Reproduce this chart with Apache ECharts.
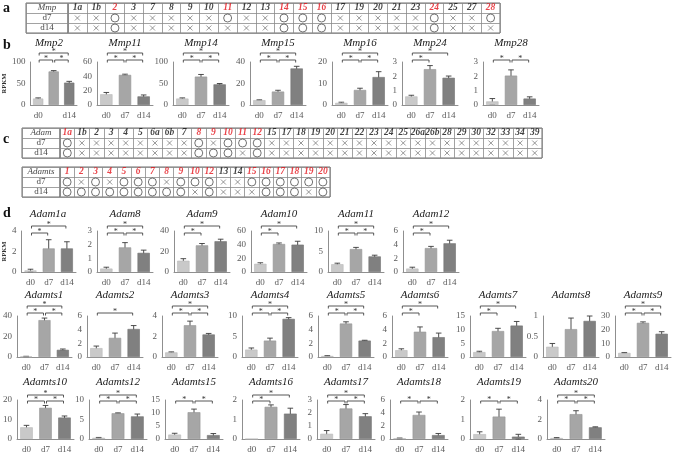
<!DOCTYPE html>
<html><head><meta charset="utf-8">
<script src="https://cdn.jsdelivr.net/npm/echarts@6/dist/echarts.min.js"></script>
<style>html,body{margin:0;padding:0;background:#fff}#c{width:677px;height:454px}</style>
</head><body><div id="c"></div>
<script>
// ---------- DATA ----------
const times = ['d0', 'd7', 'd14'];

// table a (Mmp)
const mmpGenes = ['1a','1b','2','3','7','8','9','10','11','12','13','14','15','16','17','19','20','21','23','24','25','27','28'];
const mmpD7  = ['x','x','o','x','x','x','x','x','o','x','x','o','o','o','x','x','x','x','x','o','x','x','o'];
const mmpD14 = ['x','x','o','x','x','x','x','x','x','x','x','o','o','o','x','x','x','x','x','o','x','x','x'];
const mmpRed = ['2','11','14','15','16','24','28'];

// table c (Adam)
const adamGenes = ['1a','1b','2','3','4','5','6a','6b','7','8','9','10','11','12','15','17','18','19','20','21','22','23','24','25','26a','26b','28','29','30','32','33','34','39'];
const adamD7  = ['o','x','x','x','x','x','x','x','x','o','x','o','o','o','x','x','x','x','x','x','x','x','x','x','x','x','x','x','x','x','x','x','x'];
const adamD14 = ['o','x','x','x','x','x','x','x','x','o','o','o','x','o','x','x','x','x','x','x','x','x','x','x','x','x','x','x','x','x','x','x','x'];
const adamRed = ['1a','8','9','10','11','12'];

// table c (Adamts)
const adamtsGenes = ['1','2','3','4','5','6','7','8','9','10','12','13','14','15','16','17','18','19','20'];
const adamtsD7  = ['o','x','o','x','o','o','o','x','o','o','o','x','x','o','o','o','o','o','o'];
const adamtsD14 = ['o','o','o','o','o','o','o','o','o','x','o','x','x','x','o','o','o','x','o'];
const adamtsRed = ['1','2','3','4','5','6','7','8','9','10','12','15','16','17','18','19','20'];

// panel b
const bNames = ['Mmp2','Mmp11','Mmp14','Mmp15','Mmp16','Mmp24','Mmp28'];
const bD0  = [15, 15, 15, 4.5, 1, 0.6, 0.25];
const bD7  = [78, 42, 66, 12.5, 7, 2.5, 2.05];
const bD14 = [52, 12, 48, 34, 13, 1.9, 0.45];
const bE0  = [1.5, 2.5, 1.5, 0.3, 0.3, 0.08, 0.2];
const bE7  = [2, 1, 5, 1.2, 0.8, 0.25, 0.4];
const bE14 = [3, 2, 2, 2, 2.5, 0.12, 0.12];
const bMax = [100, 60, 100, 40, 20, 3, 3];
const bStep = [50, 20, 50, 20, 10, 1, 1];
const bSig = ['01,12,02','01,12,02','01,12,02','01,12,02','01,12,02','01,02','01,12'];

// panel d, row 1
const d1Names = ['Adam1a','Adam8','Adam9','Adam10','Adam11','Adam12'];
const d1D0  = [0.15, 0.25, 11, 12, 1.9, 0.5];
const d1D7  = [2.3, 1.8, 26, 41, 5.6, 3.5];
const d1D14 = [2.3, 1.4, 30, 40, 3.8, 4.2];
const d1E0  = [0.12, 0.1, 2, 1.5, 0.25, 0.2];
const d1E7  = [0.85, 0.35, 1.8, 1.5, 0.4, 0.25];
const d1E14 = [0.65, 0.2, 2, 5, 0.3, 0.45];
const d1Max = [4, 3, 40, 60, 10, 6];
const d1Step = [2, 1, 20, 20, 5, 2];
const d1Sig = ['01,02','01,12,02','01,02','01,02','01,12,02','01,02'];

// panel d, row 2
const d2Names = ['Adamts1','Adamts2','Adamts3','Adamts4','Adamts5','Adamts6','Adamts7','Adamts8','Adamts9'];
const d2D0  = [0.5, 1.3, 0.45, 1.8, 0.15, 1, 1.8, 0.25, 3];
const d2D7  = [36, 2.8, 3.1, 4, 4.9, 3.7, 9.5, 0.68, 25];
const d2D14 = [7, 4.1, 2.2, 9.3, 2.4, 2.9, 11.5, 0.88, 17];
const d2E0  = [0.2, 0.3, 0.05, 0.4, 0.05, 0.2, 0.3, 0.08, 0.3];
const d2E7  = [2, 0.7, 0.4, 0.6, 0.25, 0.7, 1, 0.27, 0.7];
const d2E14 = [0.8, 0.5, 0.1, 0.3, 0.05, 0.6, 1.5, 0.12, 1.5];
const d2Max = [40, 6, 4, 10, 6, 6, 15, 1, 30];
const d2Step = [20, 2, 2, 5, 2, 2, 5, 0.5, 10];
const d2Sig = ['01,12,02','02','01,12,02','01,12,02','01,12,02','01,02','01,02','','01,12,02'];

// panel d, row 3
const d3Names = ['Adamts10','Adamts12','Adamts15','Adamts16','Adamts17','Adamts18','Adamts19','Adamts20'];
const d3D0  = [6, 0.3, 1.7, 0, 0.4, 0.1, 0.25, 0.1];
const d3D7  = [16, 6.6, 10.3, 1.65, 2.35, 3.7, 1.15, 2.55];
const d3D14 = [11, 5.8, 1.5, 1.3, 1.75, 0.6, 0.12, 1.2];
const d3E0  = [1, 0.1, 0.5, 0, 0.25, 0.05, 0.12, 0.05];
const d3E7  = [1.2, 0.1, 1.2, 0.1, 0.3, 0.45, 0.38, 0.35];
const d3E14 = [0.8, 0.6, 0.6, 0.28, 0.2, 0.25, 0.12, 0.05];
const d3Max = [20, 10, 15, 2, 3, 6, 2, 4];
const d3Step = [10, 5, 5, 1, 1, 2, 1, 2];
const d3Sig = ['01,12,02','01,12,02','01,12','01,02','01,12,02','01,12','01,12','01,12,02'];

// ---------- LAYOUT / STYLE ----------
const FONT = 'Liberation Serif';
const BAR_COLORS = ['#c9c9c9', '#a6a6a6', '#808080'];
const BAR_BORDERS = ['#b8b8b8', '#969696', '#727272'];
const AXIS_COLOR = '#8f8f8f';
const LABEL_COLOR = '#595959';

const rowLayouts = {
  b:  {top: 62,  height: 43, width: 56, titleY: 43,  lower: -2, upper: -9, rpkm: true,
       lefts: [21, 97, 173, 250, 332, 402, 483]},
  d1: {top: 231, height: 41, width: 56, titleY: 214, lower: 2, upper: -5, rpkm: true,
       lefts: [20, 97, 174, 251, 328, 403]},
  d2: {top: 316, height: 41, width: 56, titleY: 295, lower: -3, upper: -10, rpkm: false,
       lefts: [16, 87, 162, 242, 318, 392, 470, 543, 615]},
  d3: {top: 400, height: 40, width: 58, titleY: 382, lower: 1, upper: -5, rpkm: false,
       lefts: [16, 89, 165, 242, 317, 390, 470, 547]}
};
const tableLayouts = {
  a:      {x0: 26, x1: 68, x2: 500, top: 3,   rowH: 10},
  adam:   {x0: 22, x1: 60, x2: 542, top: 128, rowH: 10},
  adamts: {x0: 22, x1: 60, x2: 330, top: 167, rowH: 10}
};

const grids = [], xAxes = [], yAxes = [], series = [], graphics = [];

function errRender(params, api) {
  const i = api.value(0), v = api.value(1), e = api.value(2);
  if (!e) return null;
  const p1 = api.coord([i, v + e]), p2 = api.coord([i, v - e]);
  const hw = 2.8;
  const st = {stroke: '#3a3a3a', lineWidth: 0.9};
  return {type: 'group', children: [
    {type: 'line', shape: {x1: p1[0], y1: p1[1], x2: p2[0], y2: p2[1]}, style: st},
    {type: 'line', shape: {x1: p1[0] - hw, y1: p1[1], x2: p1[0] + hw, y2: p1[1]}, style: st},
    {type: 'line', shape: {x1: p2[0] - hw, y1: p2[1], x2: p2[0] + hw, y2: p2[1]}, style: st}
  ]};
}

function makeBracketRender(max, lay) {
  return function (params, api) {
    const a = api.value(0), b = api.value(1), lvl = api.value(2);
    const pa = api.coord([a, max]), pb = api.coord([b, max]);
    const y = pa[1] + (lvl ? lay.upper : lay.lower);
    const xa = pa[0] + 1, xb = pb[0] - 1;
    return {type: 'group', children: [
      {type: 'polyline', shape: {points: [[xa, y + 2.5], [xa, y], [xb, y], [xb, y + 2.5]]},
       style: {stroke: '#444', lineWidth: 0.9, fill: null}},
      {type: 'text', style: {text: '*', x: (xa + xb) / 2, y: y + 3, align: 'center', verticalAlign: 'bottom',
       font: '8px ' + FONT, fill: '#333'}}
    ]};
  };
}

function addBarPanel(name, vals, errs, max, step, sig, lay, idx, rpkm) {
  const gi = grids.length;
  const left = lay.lefts[idx];
  grids.push({left: left, top: lay.top, width: lay.width, height: lay.height});
  xAxes.push({type: 'category', gridIndex: gi, data: times,
    axisLine: {lineStyle: {color: AXIS_COLOR, width: 1}}, axisTick: {show: false},
    axisLabel: {fontFamily: FONT, fontSize: 9, color: LABEL_COLOR, margin: 6}});
  yAxes.push({type: 'value', gridIndex: gi, min: 0, max: max, interval: step,
    axisLine: {show: true, lineStyle: {color: AXIS_COLOR, width: 1}}, axisTick: {show: false},
    splitLine: {show: false},
    axisLabel: {fontFamily: FONT, fontSize: 9, color: LABEL_COLOR, margin: 5},
    name: rpkm ? 'RPKM' : '', nameLocation: 'middle', nameGap: 12, nameRotate: 90,
    nameTextStyle: {fontFamily: FONT, fontSize: 6.5, fontWeight: 'bold', color: '#333'}});
  series.push({type: 'bar', xAxisIndex: gi, yAxisIndex: gi, barWidth: '66%', silent: true,
    data: vals.map((v, i) => ({value: v, itemStyle: {color: BAR_COLORS[i], borderColor: BAR_BORDERS[i], borderWidth: 0.6}}))});
  series.push({type: 'custom', xAxisIndex: gi, yAxisIndex: gi, silent: true, renderItem: errRender,
    data: vals.map((v, i) => [i, v, errs[i]])});
  const pairs = sig ? sig.split(',') : [];
  const hasAdj = pairs.some(p => p === '01' || p === '12');
  const bdata = pairs.map(p => {
    const a = +p[0], b = +p[1];
    const lvl = (b - a === 2 && hasAdj) ? 1 : 0;
    return [a, b, lvl];
  });
  if (bdata.length) {
    series.push({type: 'custom', xAxisIndex: gi, yAxisIndex: gi, silent: true,
      renderItem: makeBracketRender(max, lay), data: bdata});
  }
  graphics.push({type: 'text', x: left + lay.width / 2, y: lay.titleY,
    style: {text: name, font: 'italic 11px ' + FONT, fill: '#1a1a1a', align: 'center', verticalAlign: 'middle'}});
}

function addRow(names, d0, d7, d14, e0, e7, e14, maxs, steps, sigs, lay) {
  names.forEach((n, k) => {
    addBarPanel(n, [d0[k], d7[k], d14[k]], [e0[k], e7[k], e14[k]], maxs[k], steps[k], sigs[k], lay, k, lay.rpkm && k === 0);
  });
}

const rowsCat = ['h', 'd7', 'd14'];
function tableAxes(gi, cats) {
  xAxes.push({type: 'category', gridIndex: gi, data: cats, axisLabel: {show: false}, axisTick: {show: false},
    axisLine: {show: false}, splitLine: {show: true, interval: 0, lineStyle: {color: '#8a8a8a', width: 0.8}}});
  yAxes.push({type: 'category', gridIndex: gi, data: rowsCat, inverse: true, axisLabel: {show: false},
    axisTick: {show: false}, axisLine: {show: false},
    splitLine: {show: true, interval: 0, lineStyle: {color: '#8a8a8a', width: 0.8}}});
}

function addTable(labelName, genes, d7, d14, reds, lay) {
  const h = lay.rowH * 3;
  // label column
  let gi = grids.length;
  grids.push({left: lay.x0, top: lay.top, width: lay.x1 - lay.x0, height: h, show: true, borderColor: '#6e6e6e', borderWidth: 1});
  tableAxes(gi, [labelName]);
  series.push({type: 'scatter', xAxisIndex: gi, yAxisIndex: gi, symbolSize: 0, silent: true,
    data: [labelName, 'd7', 'd14'].map((t, r) => ({value: [0, r], label: {
      show: true, position: 'inside', formatter: t, fontFamily: FONT, fontSize: 9,
      fontStyle: r === 0 ? 'italic' : 'normal', color: '#111'}}))});
  // gene columns
  gi = grids.length;
  grids.push({left: lay.x1, top: lay.top, width: lay.x2 - lay.x1, height: h, show: true, borderColor: '#6e6e6e', borderWidth: 1});
  tableAxes(gi, genes);
  series.push({type: 'scatter', xAxisIndex: gi, yAxisIndex: gi, symbolSize: 0, silent: true,
    data: genes.map((g, i) => ({value: [i, 0], label: {
      show: true, position: 'inside', formatter: g, fontFamily: FONT, fontSize: 9.5,
      fontStyle: 'italic', fontWeight: 'bold', color: reds.indexOf(g) >= 0 ? '#e3141c' : '#111'}}))});
  const circles = [], crosses = [];
  [d7, d14].forEach((arr, r) => arr.forEach((s, i) => {
    (s === 'o' ? circles : crosses).push([i, r + 1]);
  }));
  series.push({type: 'scatter', xAxisIndex: gi, yAxisIndex: gi, silent: true, symbol: 'circle', symbolSize: 8,
    itemStyle: {color: '#ffffff', borderColor: '#3c3c3c', borderWidth: 0.9}, data: circles});
  series.push({type: 'scatter', xAxisIndex: gi, yAxisIndex: gi, silent: true,
    symbol: 'path://M0,0L10,10M10,0L0,10', symbolSize: 5,
    itemStyle: {color: 'none', borderColor: '#707070', borderWidth: 0.9}, data: crosses});
}

addTable('Mmp', mmpGenes, mmpD7, mmpD14, mmpRed, tableLayouts.a);
addTable('Adam', adamGenes, adamD7, adamD14, adamRed, tableLayouts.adam);
addTable('Adamts', adamtsGenes, adamtsD7, adamtsD14, adamtsRed, tableLayouts.adamts);

addRow(bNames, bD0, bD7, bD14, bE0, bE7, bE14, bMax, bStep, bSig, rowLayouts.b);
addRow(d1Names, d1D0, d1D7, d1D14, d1E0, d1E7, d1E14, d1Max, d1Step, d1Sig, rowLayouts.d1);
addRow(d2Names, d2D0, d2D7, d2D14, d2E0, d2E7, d2E14, d2Max, d2Step, d2Sig, rowLayouts.d2);
addRow(d3Names, d3D0, d3D7, d3D14, d3E0, d3E7, d3E14, d3Max, d3Step, d3Sig, rowLayouts.d3);

// panel letters
[['a', 8], ['b', 45], ['c', 139], ['d', 213]].forEach(([t, y]) => {
  graphics.push({type: 'text', x: 3, y: y, style: {text: t, font: 'bold 14px ' + FONT, fill: '#111', verticalAlign: 'middle'}});
});

const chart = echarts.init(document.getElementById('c'), null, {renderer: 'canvas'});
chart.setOption({
  animation: false,
  backgroundColor: '#ffffff',
  grid: grids, xAxis: xAxes, yAxis: yAxes, series: series,
  graphic: graphics
});
</script></body></html>
